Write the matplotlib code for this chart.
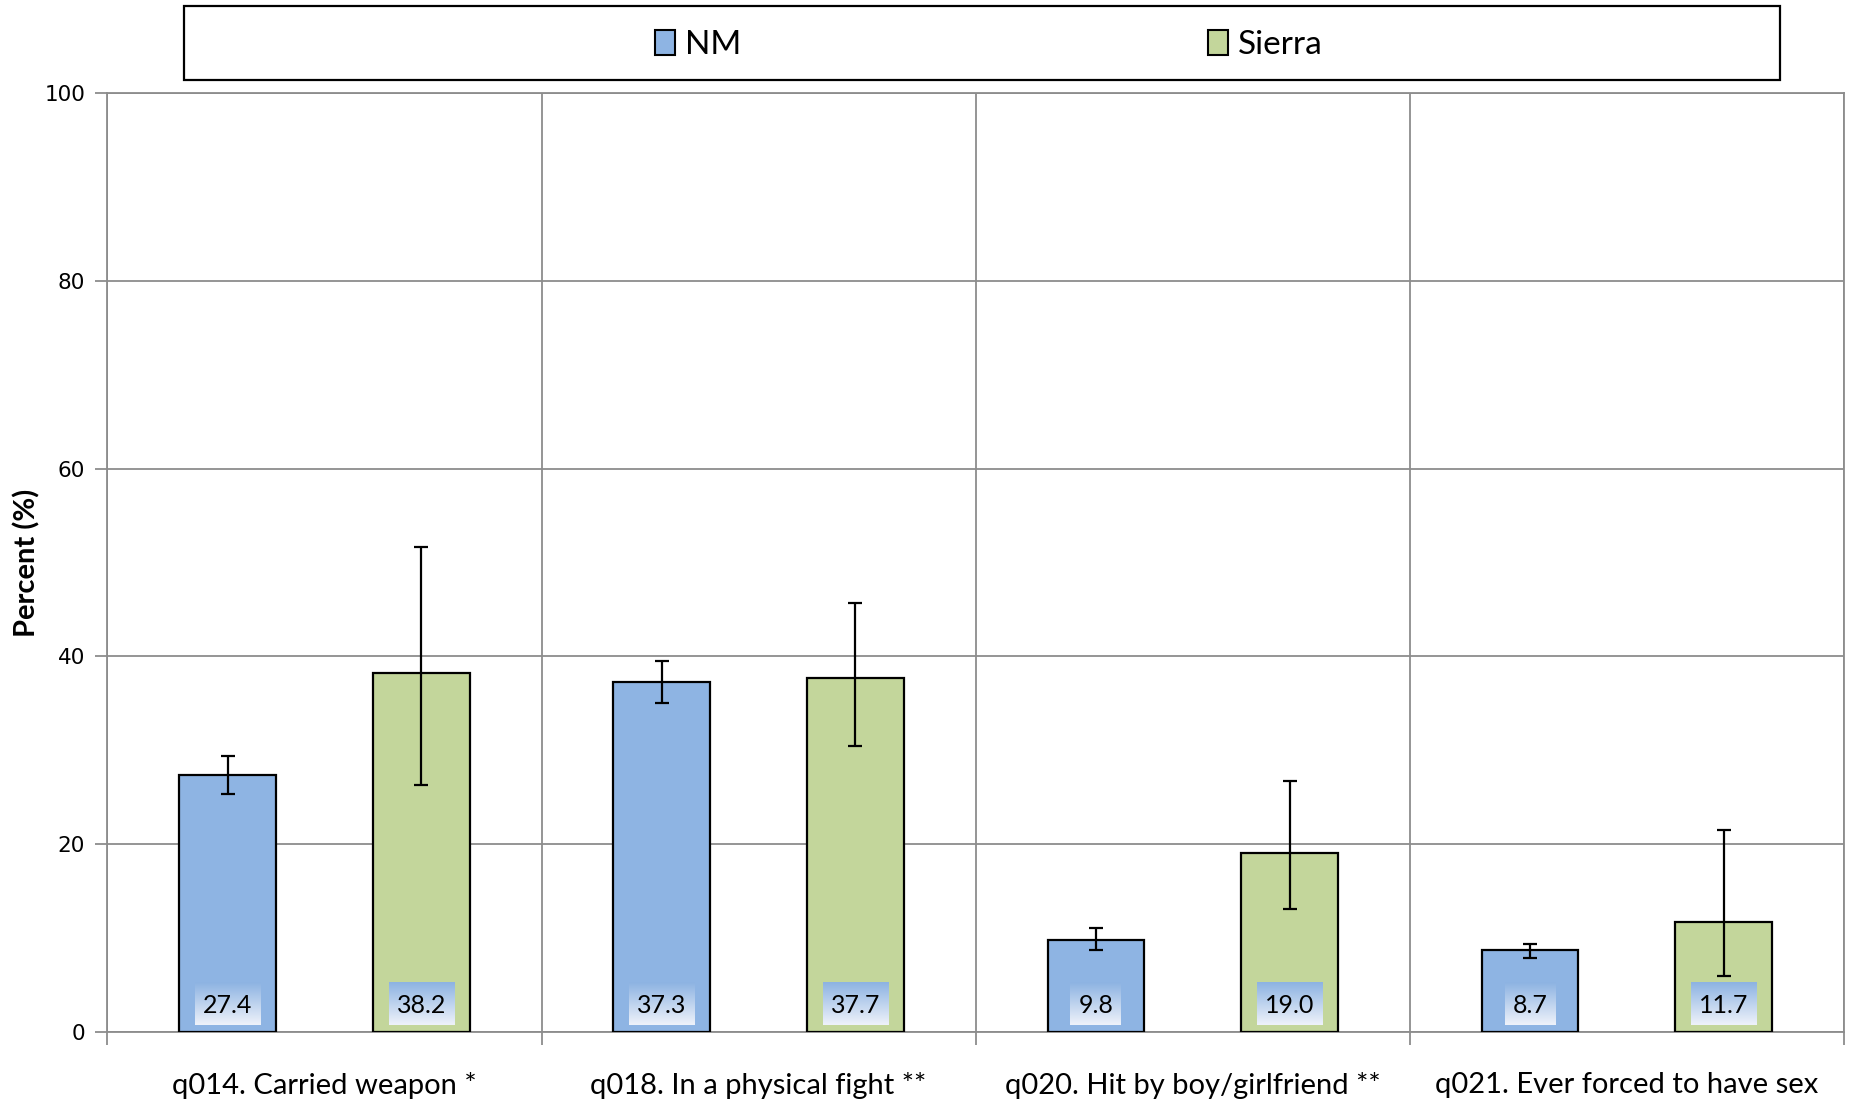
import matplotlib
matplotlib.use("Agg")
import matplotlib.pyplot as plt
import numpy as np
from matplotlib.patches import Rectangle, Patch
from matplotlib.colors import LinearSegmentedColormap

categories = ["q014. Carried weapon *", "q018. In a physical fight **",
              "q020. Hit by boy/girlfriend **", "q021. Ever forced to have sex"]
series_names = ["NM", "Sierra"]
nm_values = [27.4, 37.3, 9.8, 8.7]
nm_lower = [25.3, 35.0, 8.7, 7.9]
nm_upper = [29.4, 39.5, 11.1, 9.3]
sierra_values = [38.2, 37.7, 19.0, 11.7]
sierra_lower = [26.3, 30.4, 13.1, 5.9]
sierra_upper = [51.7, 45.7, 26.7, 21.5]
y_ticks = [0, 20, 40, 60, 80, 100]

FONT = ["Lato", "DejaVu Sans"]
plt.rcParams['font.family'] = FONT

fig = plt.figure(figsize=(18.51, 11.01), dpi=100)
ax = fig.add_axes([0.058, 0.0629, 0.9382, 0.8524])

grid_c = "#8C8C8C"
x = np.arange(len(categories))
off = 0.223
w = 0.223
cols = ["#8EB4E3", "#C3D69B"]
vals = [nm_values, sierra_values]
lows = [nm_lower, sierra_lower]
ups = [nm_upper, sierra_upper]

for k, (v, lo, up) in enumerate(zip(vals, lows, ups)):
    pos = x + (-off if k == 0 else off)
    v = np.array(v)
    yerr = np.vstack([v - np.array(lo), np.array(up) - v])
    ax.bar(pos, v, width=w, color=cols[k], edgecolor="black", linewidth=1.6, zorder=3)
    ax.errorbar(pos, v, yerr=yerr, fmt="none", ecolor="black", elinewidth=1.6,
                capsize=5, capthick=1.6, zorder=5)

ax.set_xlim(-0.5, 3.5)
ax.set_ylim(0, 100)
ax.set_yticks(y_ticks)
ax.set_yticklabels([str(t) for t in y_ticks], fontsize=15.5, family=["DejaVu Sans"])
ax.tick_params(axis="y", length=9, color=grid_c, width=1.3, pad=7)
ax.set_xticks(np.arange(-0.5, 4.0, 1.0))
ax.set_xticklabels([])
ax.tick_params(axis="x", which="major", length=9, color=grid_c, width=1.3)
ax.set_xticks(x, minor=True)
ax.set_xticklabels(categories, minor=True, fontsize=21)
ax.tick_params(axis="x", which="minor", length=0, pad=29)
ax.grid(True, which="major", color=grid_c, linewidth=1.3, zorder=0)
ax.set_axisbelow(True)
for s in ax.spines.values():
    s.set_color(grid_c)
    s.set_linewidth(1.3)
ax.set_ylabel("Percent (%)", fontsize=21, fontweight="bold", labelpad=3)

# value labels with gradient boxes
grad_cmap = LinearSegmentedColormap.from_list("g", ["#EEF2FA", "#8DB3E2"])
texts = []
for k, v in enumerate(vals):
    pos = x + (-off if k == 0 else off)
    for px, val in zip(pos, v):
        t = ax.text(px, 2.8, f"{val:.1f}", ha="center", va="center", fontsize=18,
                    family=["Lato", "DejaVu Sans"], zorder=7)
        texts.append(t)
fig.canvas.draw()
r = fig.canvas.get_renderer()
inv = ax.transData.inverted()
grad = np.linspace(0, 1, 64).reshape(-1, 1)
for t in texts:
    bb = t.get_window_extent(r)
    (x0, _), (x1, _) = inv.transform([[bb.x0 - 8, 0], [bb.x1 + 8, 0]])
    ax.imshow(grad, extent=[x0, x1, 0.7, 5.2], origin="lower", cmap=grad_cmap,
              aspect="auto", zorder=6, interpolation="bilinear")
ax.set_xlim(-0.5, 3.5)
ax.set_ylim(0, 100)

# legend
frame = Rectangle((184 / 1851, 1 - 80 / 1101), (1780 - 184) / 1851, 74 / 1101,
                  transform=fig.transFigure, facecolor="white", edgecolor="black",
                  linewidth=1.6, zorder=0)
fig.patches.append(frame)
handles = [Patch(facecolor=cols[i], edgecolor="black", linewidth=1.5) for i in range(2)]
fig.legend(handles, series_names, loc="center", bbox_to_anchor=(0.534, 0.959),
           ncol=2, frameon=False, fontsize=24, columnspacing=14.0,
           handlelength=0.6, handleheight=0.8, handletextpad=0.3)

fig.savefig("out.png", dpi=100)
